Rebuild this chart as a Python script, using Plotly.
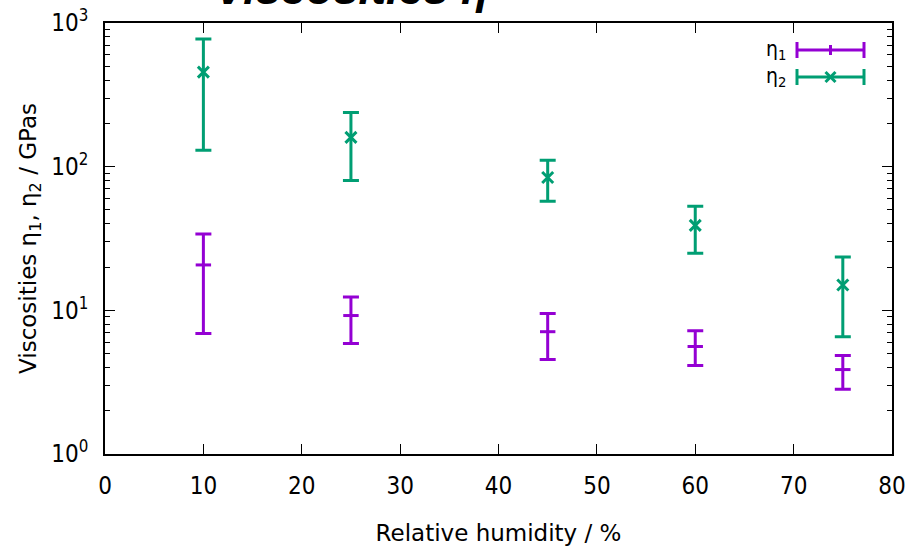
import plotly.graph_objects as go

humidity = [10, 25, 45, 60, 75]
eta1 = [20.7, 9.2, 7.1, 5.6, 3.87]
eta1_hi = [34, 12.4, 9.5, 7.2, 4.85]
eta1_lo = [6.9, 5.87, 4.55, 4.13, 2.82]
eta2 = [455, 160, 84, 39, 15]
eta2_hi = [774, 238, 111, 53, 23.5]
eta2_lo = [130, 80, 57.5, 25, 6.56]

x_ticks = [0, 10, 20, 30, 40, 50, 60, 70, 80]
y_ticks = [1, 10, 100, 1000]
y_ticktext = ["10<sup>0</sup>", "10<sup>1</sup>", "10<sup>2</sup>", "10<sup>3</sup>"]

PURPLE = "#9400D3"
GREEN = "#009E73"
FONT = "DejaVu Sans Condensed, DejaVu Sans, sans-serif"
TFONT = "DejaVu Sans, sans-serif"

L, R, T, B = 105, 20, 23, 94
W, H = 912, 548
PW, PH = W - L - R, H - T - B

fig = go.Figure()

def add_series(y, hi, lo, color, symbol, name):
    fig.add_trace(go.Scatter(
        x=humidity, y=y, mode="markers", name=name,
        marker=dict(symbol=symbol, size=11, color=color,
                    line=dict(color=color, width=3)),
        error_y=dict(type="data", symmetric=False,
                     array=[h - v for h, v in zip(hi, y)],
                     arrayminus=[v - l for v, l in zip(y, lo)],
                     color=color, thickness=3, width=8),
        showlegend=False,
    ))

add_series(eta1, eta1_hi, eta1_lo, PURPLE, "line-ew", "η1")
add_series(eta2, eta2_hi, eta2_lo, GREEN, "x-thin", "η2")

minor_vals = [m * 10 ** k for k in range(0, 3) for m in range(2, 10)]

fig.update_layout(
    width=W, height=H,
    margin=dict(l=L, r=R, t=T, b=B),
    plot_bgcolor="white", paper_bgcolor="white",
    font=dict(family=FONT, size=24, color="black"),
    xaxis=dict(range=[0, 80], tickvals=x_ticks, ticks="inside", ticklen=10,
               tickwidth=1.2, tickcolor="black", showline=True, linecolor="black",
               linewidth=1.5, mirror="ticks", showgrid=False, zeroline=False,
               automargin=False, ticklabelstandoff=9,
               title=dict(text="Relative humidity / %", standoff=26,
                          font=dict(family=TFONT, size=23)),
               tickfont=dict(size=24)),
    yaxis=dict(type="log", range=[0, 3], tickvals=y_ticks, ticktext=y_ticktext,
               ticks="inside", ticklen=10, tickwidth=1.2, tickcolor="black",
               showline=True, linecolor="black", linewidth=1.5, mirror="ticks",
               showgrid=False, zeroline=False, automargin=False, ticklabelstandoff=10,
               minor=dict(tickvals=minor_vals, ticks="inside", ticklen=5,
                          tickcolor="black", tickwidth=1.2, showgrid=False),
               title=dict(text="Viscosities η<sub>1</sub>, η<sub>2</sub> / GPas",
                          standoff=8, font=dict(family=TFONT, size=23)),
               tickfont=dict(size=24)),
)

# Title (cropped at the top like the reference)
fig.add_annotation(text="<b><i>Viscosities η</i></b>", xref="paper", yref="paper",
                   x=(351 - L) / PW, y=1 + (T - 16) / PH, xanchor="center", yanchor="bottom",
                   showarrow=False, font=dict(family="Liberation Sans, Arial, sans-serif", size=45))

# Manual legend
legend_items = [("η<sub>1</sub>", PURPLE, "line-ew", 50), ("η<sub>2</sub>", GREEN, "x-thin", 77)]
for label, color, sym, ypix in legend_items:
    yp = 1 - (ypix - T) / PH
    x0 = (797 - L) / PW
    x1 = (864 - L) / PW
    fig.add_annotation(text=label, xref="paper", yref="paper", x=x0 - 0.012, y=yp,
                       xanchor="right", yanchor="middle", showarrow=False,
                       font=dict(size=21))
    fig.add_shape(type="line", xref="paper", yref="paper", x0=x0, x1=x1, y0=yp, y1=yp,
                  line=dict(color=color, width=3))
    for xe in (x0, x1):
        fig.add_shape(type="line", xref="paper", yref="paper", x0=xe, x1=xe,
                      y0=yp - 8 / PH, y1=yp + 8 / PH, line=dict(color=color, width=3))
    xm = (x0 + x1) / 2
    if sym == "line-ew":
        fig.add_shape(type="line", xref="paper", yref="paper", x0=xm, x1=xm,
                      y0=yp - 5 / PH, y1=yp + 5 / PH, line=dict(color=color, width=3))
    else:
        dx, dy = 5 / PW, 5 / PH
        fig.add_shape(type="line", xref="paper", yref="paper", x0=xm - dx, x1=xm + dx,
                      y0=yp - dy, y1=yp + dy, line=dict(color=color, width=3))
        fig.add_shape(type="line", xref="paper", yref="paper", x0=xm - dx, x1=xm + dx,
                      y0=yp + dy, y1=yp - dy, line=dict(color=color, width=3))

fig.write_html("out.html", config={"displayModeBar": False},
               post_script="document.body.style.margin='0';")
